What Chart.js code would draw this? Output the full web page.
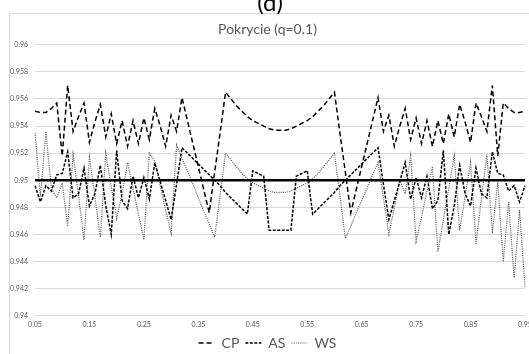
<!DOCTYPE html>
<html>
<head>
<meta charset="utf-8">
<script src="https://cdn.jsdelivr.net/npm/chart.js@4"></script>
<style>
  html, body { margin: 0; padding: 0; background: #fff; }
  #wrap { width: 529px; height: 354px; }
</style>
</head>
<body>
<div id="wrap"><canvas id="chart" width="529" height="354"></canvas></div>
<script>
// p values on the category axis (0.05 .. 0.95, step 0.01)
const categories = [
  '0.05','0.06','0.07','0.08','0.09','0.1','0.11','0.12','0.13','0.14',
  '0.15','0.16','0.17','0.18','0.19','0.2','0.21','0.22','0.23','0.24',
  '0.25','0.26','0.27','0.28','0.29','0.3','0.31','0.32','0.33','0.34',
  '0.35','0.36','0.37','0.38','0.39','0.4','0.41','0.42','0.43','0.44',
  '0.45','0.46','0.47','0.48','0.49','0.5','0.51','0.52','0.53','0.54',
  '0.55','0.56','0.57','0.58','0.59','0.6','0.61','0.62','0.63','0.64',
  '0.65','0.66','0.67','0.68','0.69','0.7','0.71','0.72','0.73','0.74',
  '0.75','0.76','0.77','0.78','0.79','0.8','0.81','0.82','0.83','0.84',
  '0.85','0.86','0.87','0.88','0.89','0.9','0.91','0.92','0.93','0.94',
  '0.95'
];

const cpValues = [
  0.9551,0.9550,0.9550,0.9553,0.9557,0.9518,0.9570,0.9536,0.9547,0.9557,
  0.9528,0.9543,0.9556,0.9532,0.9549,0.9527,0.9544,0.9525,0.9544,0.9527,
  0.9546,0.9530,0.9553,0.9540,0.9525,0.9548,0.9536,0.9561,0.9544,0.9527,
  0.9510,0.9493,0.9476,0.9506,0.9535,0.9565,0.9560,0.9555,0.9551,0.9547,
  0.9544,0.9542,0.9540,0.9538,0.9537,0.9537,0.9537,0.9538,0.9540,0.9542,
  0.9544,0.9547,0.9551,0.9555,0.9560,0.9565,0.9535,0.9506,0.9476,0.9493,
  0.9510,0.9527,0.9544,0.9561,0.9536,0.9548,0.9525,0.9540,0.9553,0.9530,
  0.9546,0.9527,0.9544,0.9525,0.9544,0.9527,0.9549,0.9532,0.9556,0.9543,
  0.9528,0.9557,0.9547,0.9536,0.9570,0.9518,0.9557,0.9553,0.9550,0.9550,
  0.9551
];

const asValues = [
  0.9496,0.9484,0.9496,0.9492,0.9504,0.9505,0.9521,0.9487,0.9490,0.9509,
  0.9481,0.9490,0.9511,0.9481,0.9460,0.9522,0.9485,0.9479,0.9503,0.9487,
  0.9502,0.9486,0.9513,0.9499,0.9485,0.9471,0.9497,0.9524,0.9520,0.9516,
  0.9512,0.9508,0.9504,0.9500,0.9496,0.9491,0.9487,0.9483,0.9479,0.9475,
  0.9507,0.9505,0.9503,0.9463,0.9463,0.9463,0.9463,0.9463,0.9503,0.9505,
  0.9507,0.9475,0.9479,0.9483,0.9487,0.9491,0.9496,0.9500,0.9504,0.9508,
  0.9512,0.9516,0.9520,0.9524,0.9497,0.9471,0.9485,0.9499,0.9513,0.9486,
  0.9502,0.9487,0.9503,0.9479,0.9485,0.9522,0.9460,0.9481,0.9511,0.9490,
  0.9481,0.9509,0.9490,0.9487,0.9521,0.9505,0.9504,0.9492,0.9496,0.9484,
  0.9496
];

const wsValues = [
  0.9535,0.9488,0.9536,0.9494,0.9487,0.9498,0.9466,0.9519,0.9488,0.9456,
  0.9517,0.9488,0.9458,0.9520,0.9495,0.9472,0.9490,0.9513,0.9494,0.9475,
  0.9456,0.9520,0.9514,0.9496,0.9478,0.9461,0.9526,0.9516,0.9507,0.9497,
  0.9487,0.9477,0.9468,0.9458,0.9489,0.9520,0.9515,0.9510,0.9505,0.9501,
  0.9498,0.9496,0.9494,0.9492,0.9491,0.9491,0.9491,0.9492,0.9494,0.9496,
  0.9498,0.9501,0.9505,0.9510,0.9515,0.9520,0.9489,0.9457,0.9466,0.9476,
  0.9485,0.9494,0.9504,0.9513,0.9487,0.9460,0.9480,0.9500,0.9490,0.9518,
  0.9455,0.9473,0.9492,0.9510,0.9447,0.9471,0.9494,0.9518,0.9463,0.9488,
  0.9513,0.9453,0.9487,0.9519,0.9461,0.9499,0.9440,0.9484,0.9428,0.9478,
  0.9421
];

// nominal coverage level (thick reference line)
const nominalLevel = 0.95;

const yMin = 0.94, yMax = 0.96, yStep = 0.002;

const grey = '#595959';

// frame + the cut-off panel letter above the chart
const extras = {
  id: 'extras',
  beforeDraw(chart) {
    const ctx = chart.ctx;
    ctx.save();
    ctx.fillStyle = '#fff';
    ctx.fillRect(0, 0, chart.width, chart.height);
    ctx.strokeStyle = '#d9d9d9';
    ctx.lineWidth = 1;
    ctx.strokeRect(9.5, 13.5, 540, 360);
    ctx.fillStyle = '#000';
    ctx.font = '24px Lato';
    ctx.textAlign = 'center';
    ctx.fillText('(d)', 270, 3);
    ctx.restore();
  }
};

// legend entries keep the dash pattern of their line
function legendLabels(chart) {
  const items = Chart.defaults.plugins.legend.labels.generateLabels(chart);
  items.forEach(it => {
    const ds = chart.data.datasets[it.datasetIndex];
    it.lineDash = ds.borderDash || [];
    it.lineWidth = ds.borderWidth;
    it.strokeStyle = ds.borderColor;
    it.fillStyle = 'transparent';
  });
  return items;
}

new Chart(document.getElementById('chart'), {
  type: 'line',
  data: {
    labels: categories,
    datasets: [
      { label: '0.95', data: [{x: categories[0], y: nominalLevel}, {x: categories[categories.length - 1], y: nominalLevel}],
        borderColor: '#000', borderWidth: 2.5, pointRadius: 0 },
      { label: 'CP', data: cpValues, borderColor: '#000', backgroundColor: 'transparent',
        borderWidth: 1.5, borderDash: [5, 3], pointRadius: 0 },
      { label: 'AS', data: asValues, borderColor: '#000', backgroundColor: 'transparent',
        borderWidth: 1.5, borderDash: [3, 1.5], pointRadius: 0 },
      { label: 'WS', data: wsValues, borderColor: '#555', backgroundColor: 'transparent',
        borderWidth: 1.2, borderDash: [1, 1.2], pointRadius: 0 }
    ]
  },
  options: {
    responsive: false,
    animation: false,
    layout: { padding: { left: 10, right: 4, top: 0, bottom: 0 } },
    plugins: {
      title: {
        display: true,
        text: 'Pokrycie (q=0.1)',
        color: grey,
        font: { family: 'Lato', size: 14, weight: 'normal' },
        padding: { top: 21, bottom: 7 }
      },
      legend: {
        position: 'bottom',
        maxHeight: 24,
        labels: {
          filter: item => item.text !== '0.95',
          generateLabels: legendLabels,
          color: grey,
          font: { family: 'Lato', size: 14 },
          usePointStyle: true,
          pointStyle: 'line',
          pointStyleWidth: 16,
          boxHeight: 14,
          padding: 6
        }
      },
      tooltip: { enabled: false }
    },
    scales: {
      x: {
        type: 'category',
        offset: false,
        grid: { display: false, drawTicks: false },
        border: { display: false },
        ticks: {
          autoSkip: false,
          maxRotation: 0,
          padding: 5,
          color: grey,
          font: { family: 'Lato', size: 7 },
          callback: (v, i) => (i % 10 === 0 ? categories[i] : null)
        },
        afterFit(s) { s.paddingLeft = 0; s.paddingRight = 0; s.height = 14.3; }
      },
      y: {
        min: yMin,
        max: yMax,
        grid: { color: '#d9d9d9', drawTicks: false },
        border: { display: false },
        ticks: {
          stepSize: yStep,
          padding: 7,
          color: grey,
          font: { family: 'Lato', size: 7 },
          callback: v => String(+v.toFixed(3))
        },
        afterFit(s) { s.width = 25; s.paddingTop = 0; s.paddingBottom = 0; }
      }
    }
  },
  plugins: [extras]
});
</script>
</body>
</html>
